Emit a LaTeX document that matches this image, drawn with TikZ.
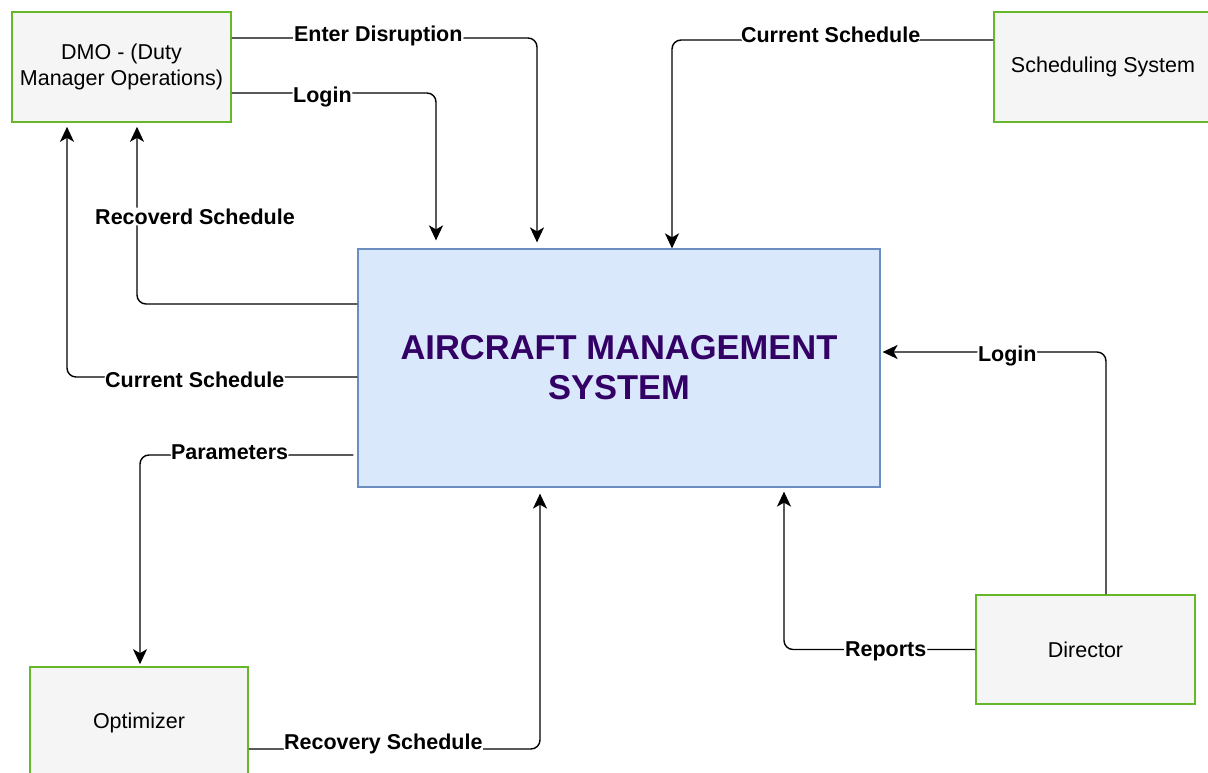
\documentclass[tikz,border=0pt]{standalone}
\usepackage{fontspec}
\setmainfont{Liberation Sans}
\usepackage{tikz}
\usetikzlibrary{arrows.meta}

\definecolor{boxgreen}{RGB}{102,184,42}
\definecolor{boxgray}{RGB}{245,245,245}
\definecolor{amsfill}{RGB}{218,232,252}
\definecolor{amsline}{RGB}{108,142,191}
\definecolor{amstext}{RGB}{51,0,102}

\tikzset{
  actor/.style={draw=boxgreen, fill=boxgray, line width=1.6pt, align=center,
    font=\fontsize{21.5}{26}\selectfont, inner sep=0pt},
  flow/.style={line width=1.4pt, rounded corners=9pt, -{Stealth[length=15pt,width=14pt,inset=4pt]}},
  lbl/.style={fill=white, inner sep=1pt, font=\fontsize{21.5}{24}\selectfont\bfseries}
}

\begin{document}
\begin{tikzpicture}[x=1pt, y=-1pt]
\clip (0,0) rectangle (1208,773);
\fill[white] (0,0) rectangle (1208,773);

% the system in the middle
\node[draw=amsline, fill=amsfill, line width=1.2pt, minimum width=522pt, minimum height=238pt,
  align=center, text=amstext, font=\fontsize{34.5}{40}\selectfont\bfseries] (ams) at (619,368)
  {AIRCRAFT MANAGEMENT\\SYSTEM};

% actors round it
\node[actor, minimum width=219pt, minimum height=110pt] (dmo) at (121.5,67) {DMO - (Duty\\Manager Operations)};
\node[actor, minimum width=218pt, minimum height=110pt] (sched) at (1103,67) {Scheduling System};
\node[actor, minimum width=218pt, minimum height=112pt] (opt) at (139,723) {Optimizer};
\node[actor, minimum width=219pt, minimum height=109pt] (dir) at (1085.5,649.5) {Director};

% data flows
\draw[flow] ([yshift=29pt]dmo.east) -| node[lbl, pos=0.24, yshift=2pt]{Enter Disruption} ([xshift=-82pt,yshift=6pt]ams.north);
\draw[flow] ([yshift=-26pt]dmo.east) -| node[lbl, pos=0.222, yshift=-4pt]{Login} ([xshift=-183pt,yshift=8pt]ams.north);
\draw[flow] ([yshift=27pt]sched.west) -| node[lbl, pos=0.253, yshift=5pt]{Current Schedule} ([xshift=53pt]ams.north);
\draw[flow] ([yshift=64pt]ams.west) -| node[lbl, pos=0.747, xshift=58pt]{Recoverd Schedule} ([xshift=15.5pt,yshift=-4pt]dmo.south);
\draw[flow] ([yshift=-9pt]ams.west) -| node[lbl, pos=0.28, yshift=-3pt]{Current Schedule} ([xshift=-54.5pt,yshift=-4pt]dmo.south);
\draw[flow] ([xshift=-4pt,yshift=-87pt]ams.west) -| node[lbl, pos=0.29, yshift=3pt]{Parameters} ([xshift=1pt,yshift=2pt]opt.north);
\draw[flow] ([yshift=-26pt]opt.east) -| node[lbl, pos=0.231, yshift=5pt]{Recovery Schedule} ([xshift=-79pt,yshift=-6pt]ams.south);
\draw[flow] ([xshift=20.5pt]dir.north) |- node[lbl, pos=0.721, yshift=-4pt]{Login} ([xshift=2pt,yshift=16pt]ams.east);
\draw[flow] (dir.west) -| node[lbl, pos=0.234, yshift=-2pt]{Reports} ([xshift=165pt,yshift=-4pt]ams.south);
\end{tikzpicture}
\end{document}
